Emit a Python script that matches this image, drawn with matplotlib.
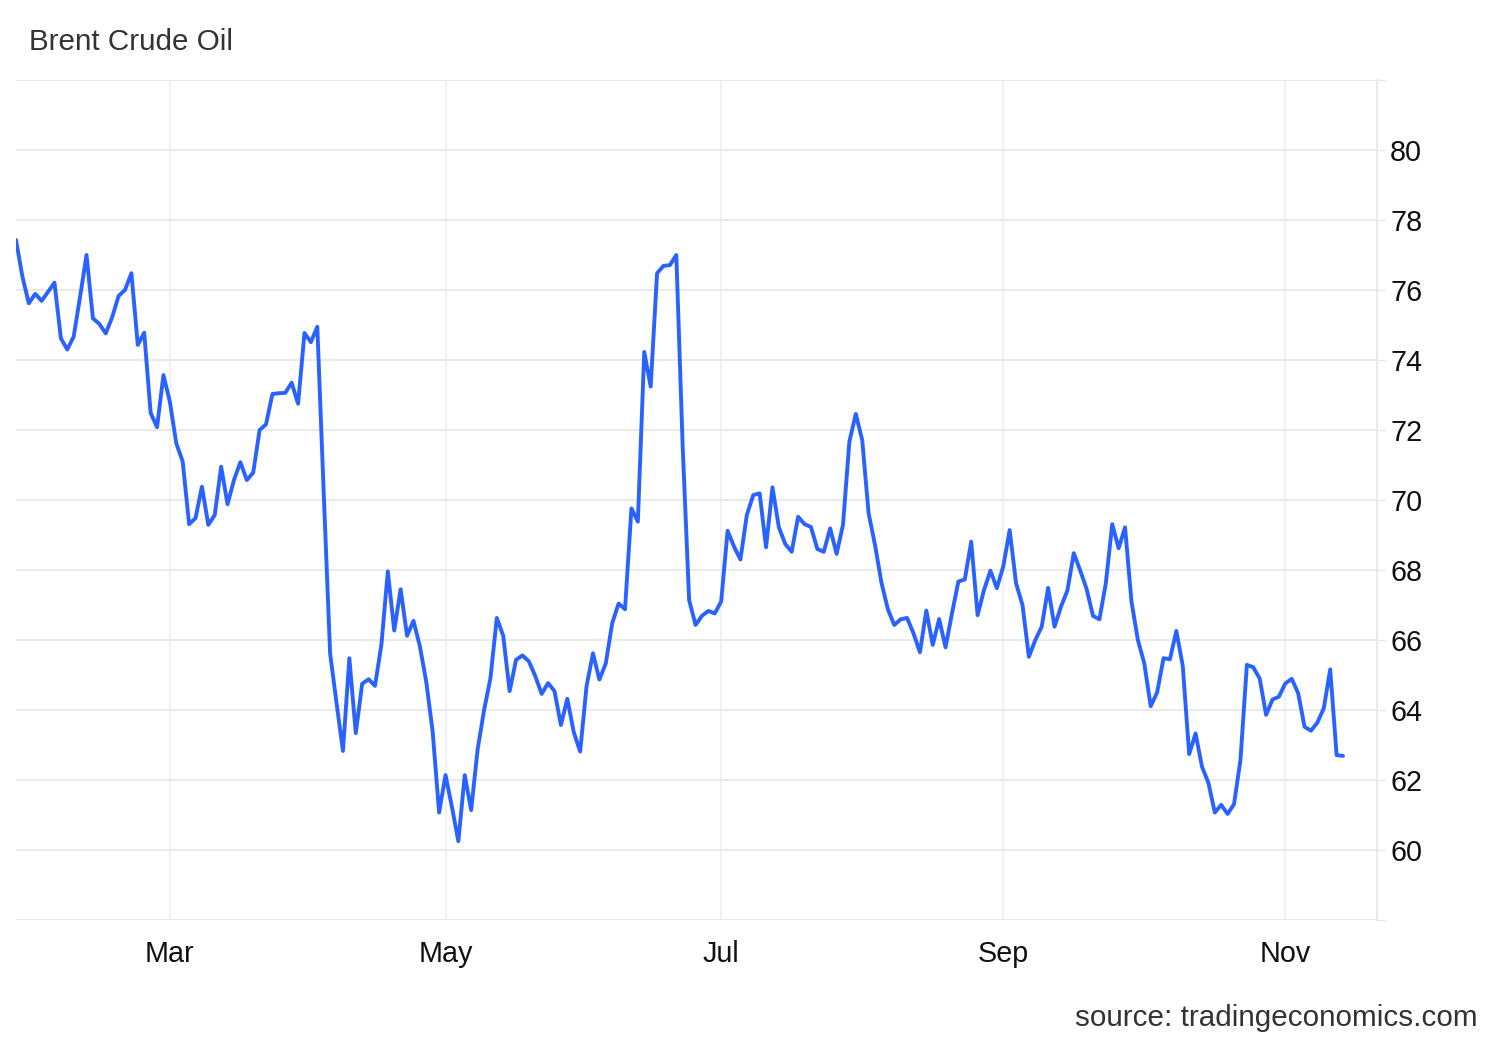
import numpy as np
import matplotlib.pyplot as plt

plt.rcParams['font.family'] = ['Liberation Sans', 'DejaVu Sans']

# daily Brent closes (trading days)
prices = [
    77.43, 76.38, 75.62, 75.89, 75.69, 75.95, 76.21, 74.62, 74.30, 74.67,
    75.81, 77.00, 75.19, 75.03, 74.76, 75.22, 75.83, 76.00, 76.48, 74.43,
    74.78, 72.49, 72.08, 73.57, 72.81, 71.62, 71.10, 69.31, 69.48, 70.38,
    69.29, 69.57, 70.95, 69.88, 70.57, 71.08, 70.57, 70.78, 72.00, 72.16,
    73.03, 73.05, 73.06, 73.35, 72.75, 74.77, 74.51, 74.95, 70.20, 65.61,
    64.20, 62.83, 65.48, 63.34, 64.75, 64.88, 64.69, 65.87, 67.96, 66.27,
    67.45, 66.12, 66.55, 65.82, 64.80, 63.37, 61.07, 62.14, 61.23, 60.25,
    62.14, 61.14, 62.86, 63.98, 64.90, 66.63, 66.12, 64.54, 65.43, 65.56,
    65.39, 64.97, 64.46, 64.77, 64.54, 63.57, 64.32, 63.37, 62.81, 64.68,
    65.62, 64.87, 65.33, 66.48, 67.04, 66.88, 69.76, 69.38, 74.23, 73.24,
    76.48, 76.69, 76.71, 77.00, 71.50, 67.14, 66.43, 66.69, 66.83, 66.76,
    67.10, 69.12, 68.67, 68.30, 69.57, 70.14, 70.19, 68.65, 70.36, 69.22,
    68.74, 68.52, 69.52, 69.31, 69.23, 68.60, 68.52, 69.19, 68.46, 69.29,
    71.67, 72.46, 71.71, 69.62, 68.71, 67.64, 66.88, 66.43, 66.59, 66.63,
    66.19, 65.65, 66.84, 65.86, 66.60, 65.79, 66.76, 67.67, 67.73, 68.81,
    66.71, 67.43, 67.98, 67.48, 68.10, 69.14, 67.62, 67.00, 65.52, 66.00,
    66.38, 67.49, 66.38, 66.95, 67.41, 68.48, 67.99, 67.46, 66.69, 66.59,
    67.62, 69.31, 68.62, 69.22, 67.10, 66.00, 65.33, 64.11, 64.50, 65.48,
    65.45, 66.26, 65.26, 62.74, 63.33, 62.38, 61.92, 61.07, 61.29, 61.03,
    61.31, 62.57, 65.29, 65.22, 64.90, 63.86, 64.30, 64.38, 64.76, 64.89,
    64.48, 63.52, 63.41, 63.64, 64.05, 65.16, 62.71, 62.69,
]

# first trading day of each labelled month (position in the series)
month_labels = ['Mar', 'May', 'Jul', 'Sep', 'Nov']
month_index = [24, 67, 110, 154, 198]

y_ticks = list(range(58, 83, 2))
y_labels = ['' if (v == 58 or v == 82) else str(v) for v in y_ticks]

fig = plt.figure(figsize=(15, 10.4), dpi=100)
ax = fig.add_axes([16/1500, 1-920/1040, (1377-16)/1500, (920-80)/1040])

days = np.arange(len(prices))
ax.plot(days, prices, color='#2962ff', lw=2.8, solid_joinstyle='round',
        solid_capstyle='round', zorder=3)

ax.set_xlim(0, 212.3)
ax.set_ylim(58, 82)

ax.set_xticks(month_index)
ax.set_xticklabels(month_labels)
ax.set_yticks(y_ticks)
ax.set_yticklabels(y_labels)

ax.yaxis.tick_right()
ax.tick_params(axis='y', length=6, width=1, color='#e6e6e6', pad=3.5,
               labelsize=20.7, labelcolor='#111111')
ax.tick_params(axis='x', length=0, pad=14.5, labelsize=20.7, labelcolor='#111111')

ax.grid(axis='y', color='#e6e6e6', lw=1.2, zorder=0)
ax.grid(axis='x', color='#eef0f3', lw=1.2, zorder=0)

for s in ['left', 'top', 'bottom']:
    ax.spines[s].set_visible(False)
ax.spines['right'].set_color('#e6e6e6')
ax.spines['right'].set_linewidth(1.2)

fig.text(29/1500, 1-42/1040, 'Brent Crude Oil', fontsize=21.3, color='#333333',
         ha='left', va='center')
fig.text(1478/1500, 1-1018/1040, 'source: tradingeconomics.com', fontsize=21.3,
         color='#333333', ha='right', va='center')

fig.savefig('out.png', dpi=100, facecolor='white')
